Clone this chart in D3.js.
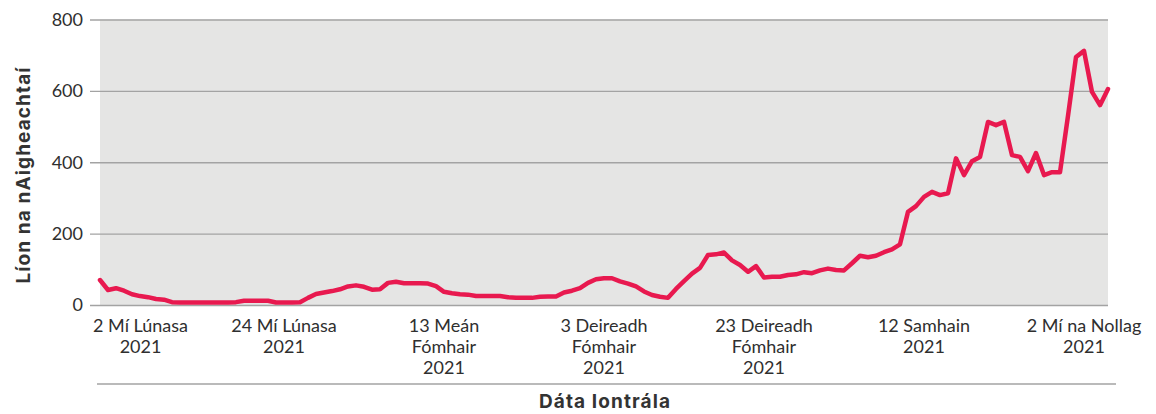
<!DOCTYPE html>
<html>
<head>
<meta charset="utf-8">
<script src="https://cdn.jsdelivr.net/npm/d3@7"></script>
<style>
  body { margin: 0; background: #fff; }
  svg { display: block; }
  text { font-family: Lato, "Noto Sans", sans-serif; fill: #2f2f2f; }
  .title { font-family: Inter, "Noto Sans", sans-serif; font-weight: 700; fill: #333; letter-spacing: 1.1px; }
</style>
</head>
<body>
<svg id="chart" width="1156" height="414"></svg>
<script>
// daily counts, 1 Aug 2021 -> 5 Dec 2021
var startDate = "2021-08-01";
var counts = [
  70, 42, 47, 40, 30, 25, 22, 17, 15, 8,
  7, 7, 7, 7, 7, 7, 7, 8, 12, 12,
  12, 12, 7, 7, 7, 8, 20, 31, 35, 39,
  44, 52, 55, 51, 43, 44, 62, 65, 61, 61,
  61, 60, 53, 37, 33, 30, 29, 25, 25, 25,
  25, 22, 20, 20, 20, 23, 24, 24, 35, 40,
  47, 62, 72, 75, 75, 66, 60, 52, 38, 28,
  23, 20, 45, 67, 88, 104, 140, 142, 147, 125,
  112, 93, 109, 77, 79, 79, 84, 86, 92, 89,
  97, 102, 98, 97, 117, 138, 134, 138, 148, 156,
  170, 261, 277, 303, 317, 308, 313, 411, 364, 403,
  415, 513, 504, 513, 420, 415, 375, 426, 364, 372,
  372, 530, 695, 712, 597, 560, 605
];
var tickDates = ["2021-08-02", "2021-08-24", "2021-09-13", "2021-10-03", "2021-10-23", "2021-11-12", "2021-12-02"];
var tickLabels = [
  ["2 Mí Lúnasa", "2021"],
  ["24 Mí Lúnasa", "2021"],
  ["13 Meán", "Fómhair", "2021"],
  ["3 Deireadh", "Fómhair", "2021"],
  ["23 Deireadh", "Fómhair", "2021"],
  ["12 Samhain", "2021"],
  ["2 Mí na Nollag", "2021"]
];
var yTicks = [0, 200, 400, 600, 800];

var parse = d3.timeParse("%Y-%m-%d");
var t0 = parse(startDate);
var data = counts.map(function (v, i) { return { date: d3.timeDay.offset(t0, i), value: v }; });

var plotLeft = 100, plotRight = 1108, plotTop = 19.5, plotBottom = 305;

var svg = d3.select('#chart');

var x = d3.scaleTime()
    .domain(d3.extent(data, function (d) { return d.date; }))
    .range([plotLeft, plotRight]);

var y = d3.scaleLinear()
    .domain([0, 800])
    .range([plotBottom, plotTop]);

svg.append('rect')
    .attr('x', plotLeft).attr('y', plotTop)
    .attr('width', plotRight - plotLeft).attr('height', plotBottom - plotTop)
    .attr('fill', '#e5e5e4');

var yAxis = svg.append('g')
    .attr('transform', 'translate(' + plotRight + ',0)')
    .call(d3.axisLeft(y).tickValues(yTicks).tickSize(plotRight - plotLeft + 10).tickPadding(7));
yAxis.select('.domain').remove();
yAxis.selectAll('line').attr('stroke', '#a3a3a3').attr('stroke-width', 1.3);
yAxis.selectAll('text')
    .attr('fill', '#2f2f2f')
    .style('font-family', 'Lato, sans-serif')
    .style('font-size', '18px');

var line = d3.line()
    .x(function (d) { return x(d.date); })
    .y(function (d) { return y(d.value); });

svg.append('path')
    .datum(data)
    .attr('d', line)
    .attr('fill', 'none')
    .attr('stroke', '#e8194f')
    .attr('stroke-width', 4.5)
    .attr('stroke-linejoin', 'round')
    .attr('stroke-linecap', 'round');

// x tick labels, wrapped on several lines
var labels = svg.append('g').selectAll('text')
    .data(tickDates)
    .enter()
    .append('text')
    .attr('text-anchor', 'middle')
    .style('font-size', '18px')
    .attr('x', function (d) { return x(parse(d)); })
    .attr('y', 332);

labels.each(function (d, i) {
    var el = d3.select(this);
    tickLabels[i].forEach(function (s, j) {
        el.append('tspan')
            .attr('x', el.attr('x'))
            .attr('y', 332 + j * 21)
            .text(s);
    });
    // keep the first label clear of the y axis
    var b = this.getBBox();
    if (b.x < 93) {
        var nx = +el.attr('x') + (93 - b.x);
        el.attr('x', nx);
        el.selectAll('tspan').attr('x', nx);
    }
});

svg.append('line')
    .attr('x1', 97).attr('x2', 1116)
    .attr('y1', 384).attr('y2', 384)
    .attr('stroke', '#a3a3a3').attr('stroke-width', 1.3);

svg.append('text')
    .attr('class', 'title')
    .attr('x', 605).attr('y', 408)
    .attr('text-anchor', 'middle')
    .style('font-size', '19px')
    .text('Dáta Iontrála');

svg.append('text')
    .attr('class', 'title')
    .attr('transform', 'translate(30,175) rotate(-90)')
    .attr('text-anchor', 'middle')
    .style('font-size', '19px')
    .text('Líon na nAigheachtaí');
</script>
</body>
</html>
